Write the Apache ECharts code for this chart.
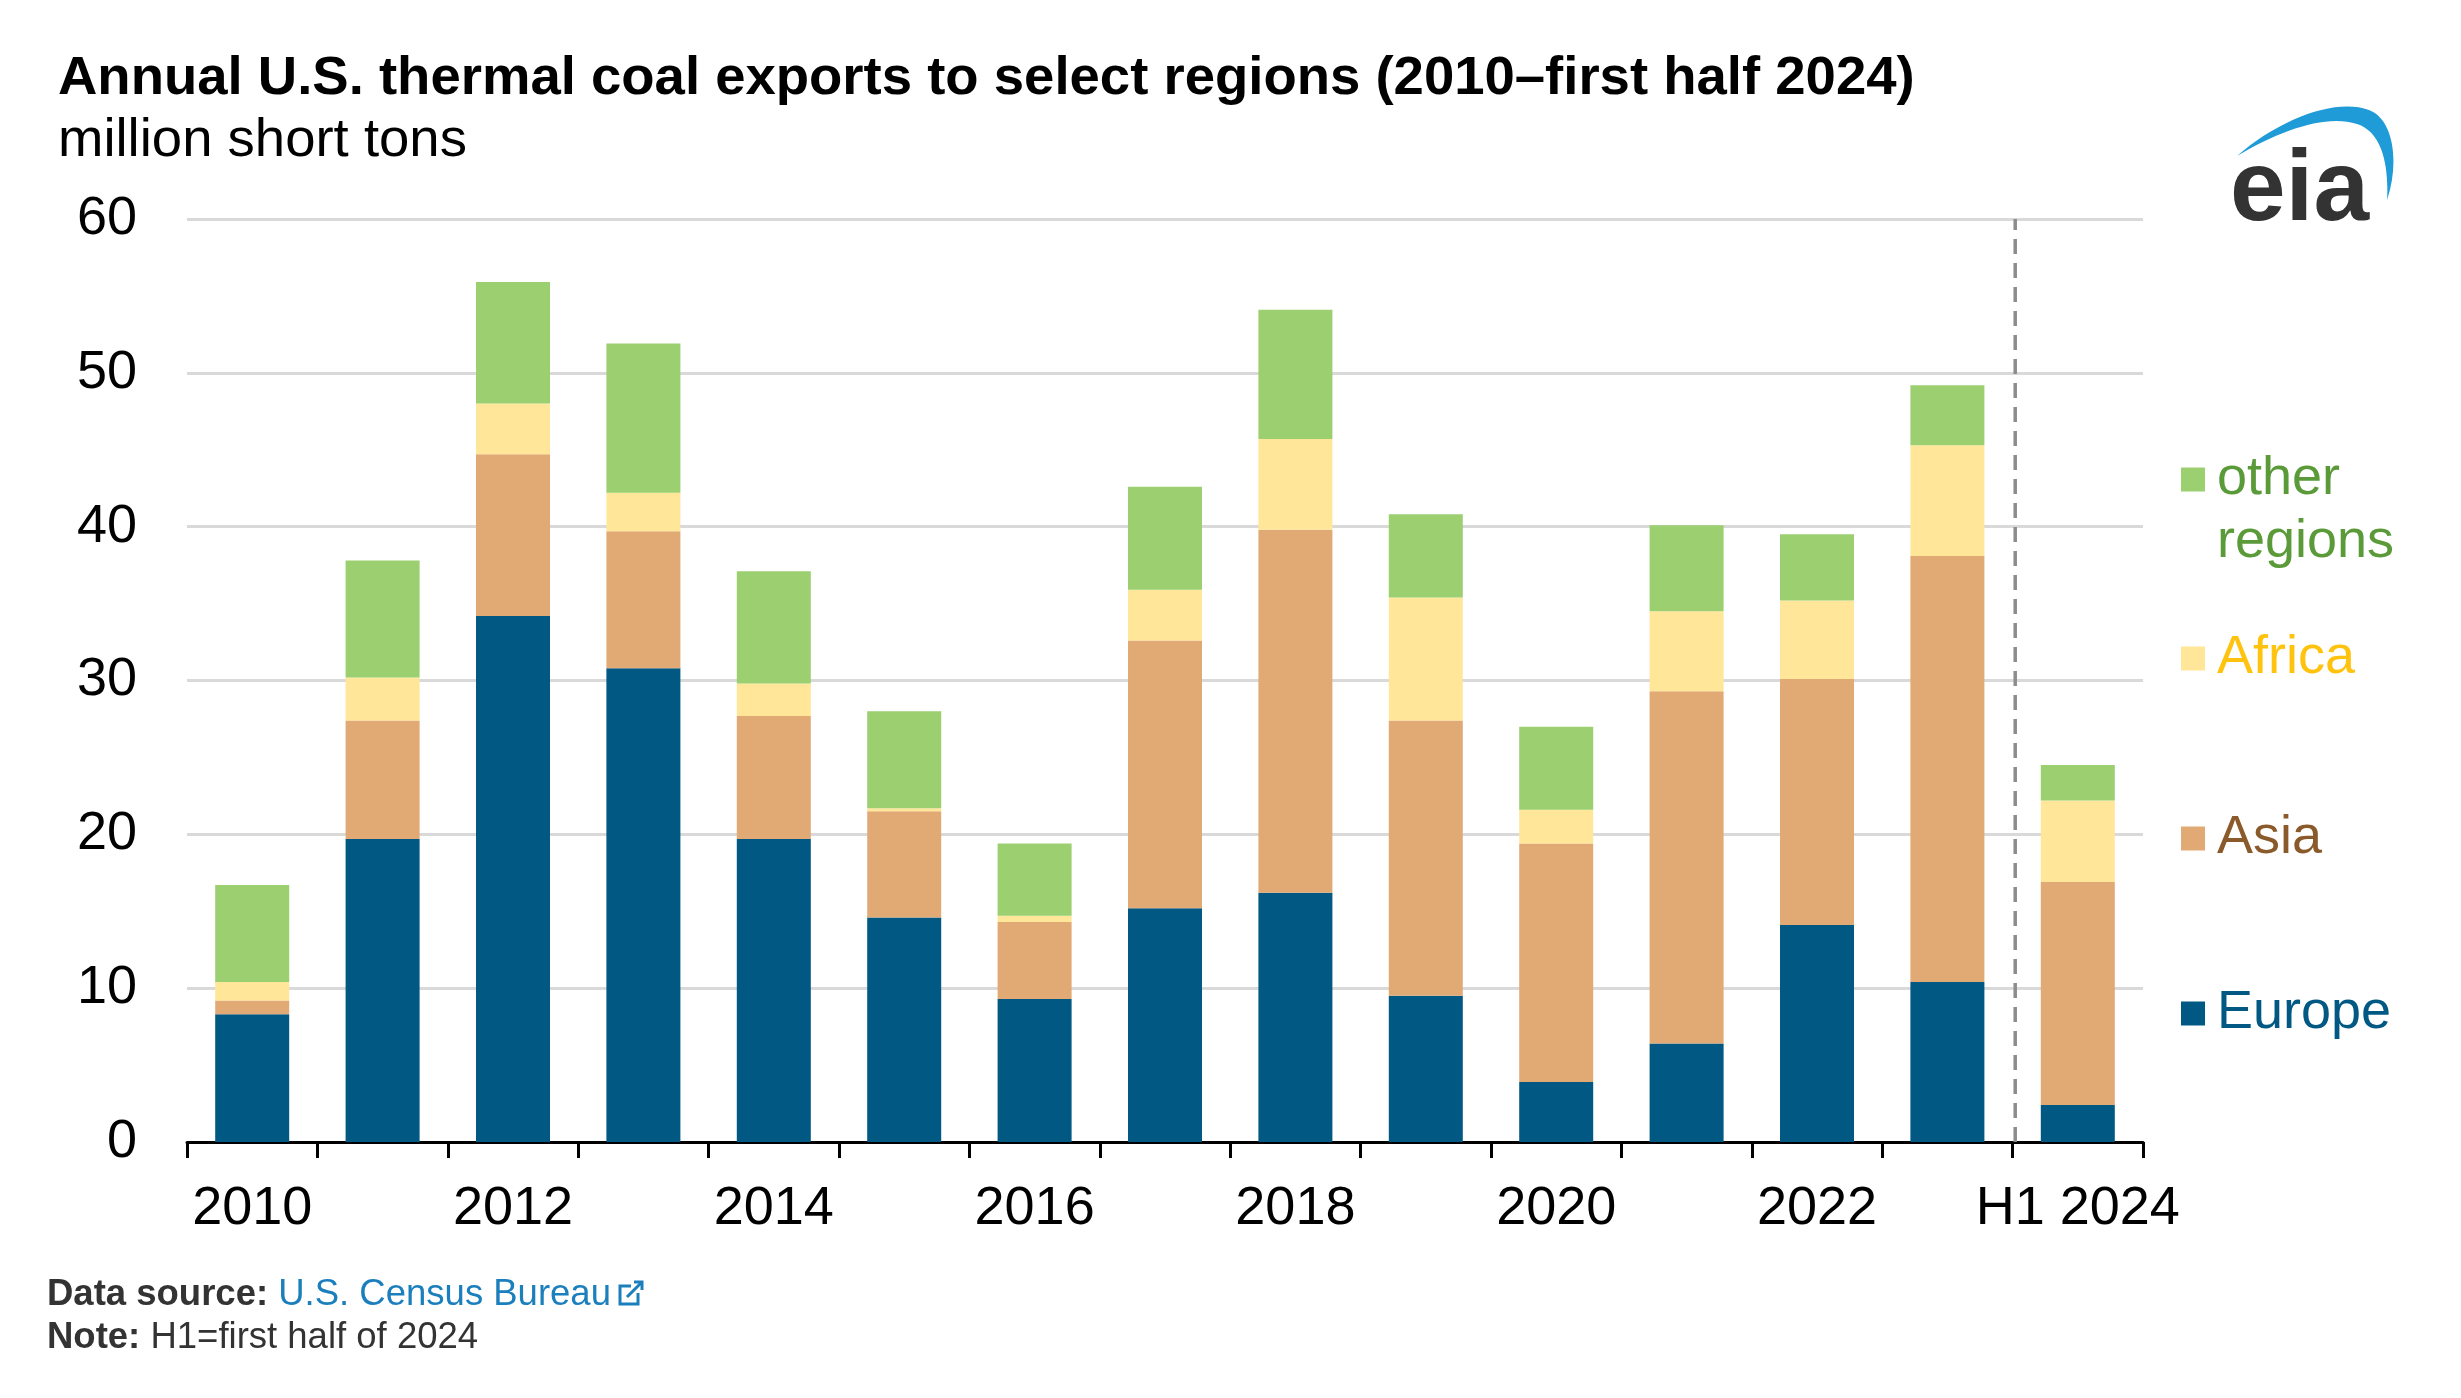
<!DOCTYPE html>
<html>
<head>
<meta charset="utf-8">
<script src="https://cdn.jsdelivr.net/npm/echarts@6/dist/echarts.min.js"></script>
<style>
  html, body { margin: 0; padding: 0; background: #fff; }
  #chart { width: 2461px; height: 1398px; }
</style>
</head>
<body>
<div id="chart"></div>
<script>
// categories and stacked segment values (million short tons)
const years = ['2010', '2011', '2012', '2013', '2014', '2015', '2016', '2017', '2018', '2019', '2020', '2021', '2022', '2023', 'H1 2024'];
const europe = [8.3, 19.7, 34.2, 30.8, 19.7, 14.6, 9.3, 15.2, 16.2, 9.5, 3.9, 6.4, 14.1, 10.4, 2.4];
const asia   = [0.9, 7.7, 10.5, 8.9, 8.0, 6.9, 5.0, 17.4, 23.6, 17.9, 15.5, 22.9, 16.0, 27.7, 14.5];
const africa = [1.2, 2.8, 3.3, 2.5, 2.1, 0.2, 0.4, 3.3, 5.9, 8.0, 2.2, 5.2, 5.1, 7.2, 5.3];
const other  = [6.3, 7.6, 7.9, 9.7, 7.3, 6.3, 4.7, 6.7, 8.4, 5.4, 5.4, 5.6, 4.3, 3.9, 2.3];
const yTicks = [0, 10, 20, 30, 40, 50, 60];
// dashed separator sits on the boundary before the H1 2024 bar
const dividerLine = [[14.02, 0], [14.02, 60]];

const FONT = "'Liberation Sans', Arial, sans-serif";
const colors = { europe: '#005883', asia: '#e1aa74', africa: '#ffe699', other: '#9bcf70' };
const textColors = { europe: '#005883', asia: '#8b5a2b', africa: '#ffc20e', other: '#5a9a38' };

// blue swoosh of the eia logo
const swoosh = 'data:image/svg+xml;charset=utf-8,' + encodeURIComponent(
    '<svg xmlns="http://www.w3.org/2000/svg" width="170" height="104" viewBox="2240 100 170 104">' +
    '<path d="M2246,156 C2290,118 2345,98 2378,110 C2404,120 2408,165 2396,200 C2398,168 2392,132 2366,124 C2335,114 2290,130 2246,156 Z" fill="#1f9bd8"/></svg>');

const chart = echarts.init(document.getElementById('chart'), null, { renderer: 'canvas' });

function bar(name, data, color) {
    return {
        name: name, type: 'bar', stack: 'total', data: data,
        barWidth: 74, itemStyle: { color: color }, silent: true
    };
}

function legendFor(name, top, color) {
    return {
        data: [{ name: name, textStyle: { color: color } }],
        orient: 'vertical', left: 2181, top: top, padding: 0,
        icon: 'rect', itemWidth: 24, itemHeight: 24,
        selectedMode: false,
        // two-line label: an empty first line keeps the square beside "other"
        formatter: n => n === 'other regions' ? '{s| }\n{t|other}\n{t|regions}' : n,
        textStyle: {
            fontFamily: FONT, fontSize: 54, lineHeight: 63, padding: [0, 0, 0, 7],
            rich: {
                s: { fontFamily: FONT, fontSize: 54, lineHeight: 63 },
                t: { fontFamily: FONT, fontSize: 54, lineHeight: 63, color: color }
            }
        }
    };
}

chart.setOption({
    animation: false,
    backgroundColor: '#fff',
    title: [
        {
            text: 'Annual U.S. thermal coal exports to select regions (2010\u2013first half 2024)',
            left: 58, top: 49, padding: 0,
            textStyle: { fontFamily: FONT, fontSize: 54.5, fontWeight: 'bold', color: '#000', lineHeight: 60 }
        },
        {
            text: 'million short tons',
            left: 58, top: 111, padding: 0,
            textStyle: { fontFamily: FONT, fontSize: 54.5, fontWeight: 'normal', color: '#000', lineHeight: 60 }
        },
        {
            text: '{b|Data source:} {l|U.S. Census Bureau}',
            left: 47, top: 1274, padding: 0,
            textStyle: {
                fontFamily: FONT, fontSize: 36.5, fontWeight: 'normal', color: '#333', lineHeight: 42,
                rich: {
                    b: { fontFamily: FONT, fontSize: 36.5, fontWeight: 'bold', color: '#333' },
                    l: { fontFamily: FONT, fontSize: 36.5, fontWeight: 'normal', color: '#1b7fbd' }
                }
            }
        },
        {
            text: '{b|Note:} H1=first half of 2024',
            left: 47, top: 1317, padding: 0,
            textStyle: {
                fontFamily: FONT, fontSize: 36.5, fontWeight: 'normal', color: '#333', lineHeight: 42,
                rich: { b: { fontFamily: FONT, fontSize: 36.5, fontWeight: 'bold', color: '#333' } }
            }
        }
    ],
    legend: [
        legendFor('other regions', 385, textColors.other),
        legendFor('Africa', 627, textColors.africa),
        legendFor('Asia', 807, textColors.asia),
        legendFor('Europe', 982, textColors.europe)
    ],
    grid: { left: 187, right: 318, top: 219, bottom: 256, containLabel: false },
    xAxis: [
        {
            type: 'category', data: years,
            axisLine: { lineStyle: { color: '#000', width: 3 } },
            axisTick: { show: true, interval: 0, length: 16, lineStyle: { color: '#000', width: 3 } },
            axisLabel: { interval: 1, margin: 40, fontFamily: FONT, fontSize: 54, color: '#000' }
        },
        { type: 'value', min: 0, max: 15, show: false }
    ],
    yAxis: {
        type: 'value', min: yTicks[0], max: yTicks[yTicks.length - 1], interval: 10,
        axisLine: { show: false }, axisTick: { show: false },
        axisLabel: { margin: 50, fontFamily: FONT, fontSize: 54, color: '#000' },
        splitLine: { lineStyle: { color: '#d9d9d9', width: 3 } }
    },
    series: [
        bar('Europe', europe, colors.europe),
        bar('Asia', asia, colors.asia),
        bar('Africa', africa, colors.africa),
        bar('other regions', other, colors.other),
        {
            name: 'divider', type: 'line', xAxisIndex: 1, yAxisIndex: 0,
            data: dividerLine, symbol: 'none', silent: true, z: 3,
            lineStyle: { color: '#8c8c8c', width: 3.5, type: [15, 9] }
        }
    ],
    graphic: [
        // eia logo
        {
            type: 'image', silent: true, x: 2231, y: 100,
            style: { image: swoosh, width: 170, height: 104 }
        },
        {
            type: 'text', silent: true, x: 2230, y: 192,
            style: { text: 'eia', font: 'bold 100px ' + FONT, fill: '#333', verticalAlign: 'middle' }
        },
        // external link icon after the source name
        {
            type: 'polyline', silent: true,
            shape: { points: [[631, 1286], [620, 1286], [620, 1304], [638, 1304], [638, 1293]] },
            style: { stroke: '#1b7fbd', lineWidth: 3, fill: null }
        },
        {
            type: 'polyline', silent: true,
            shape: { points: [[627, 1297], [642, 1282]] },
            style: { stroke: '#1b7fbd', lineWidth: 3, fill: null }
        },
        {
            type: 'polyline', silent: true,
            shape: { points: [[634, 1282], [642, 1282], [642, 1290]] },
            style: { stroke: '#1b7fbd', lineWidth: 3, fill: null }
        }
    ]
});
</script>
</body>
</html>
